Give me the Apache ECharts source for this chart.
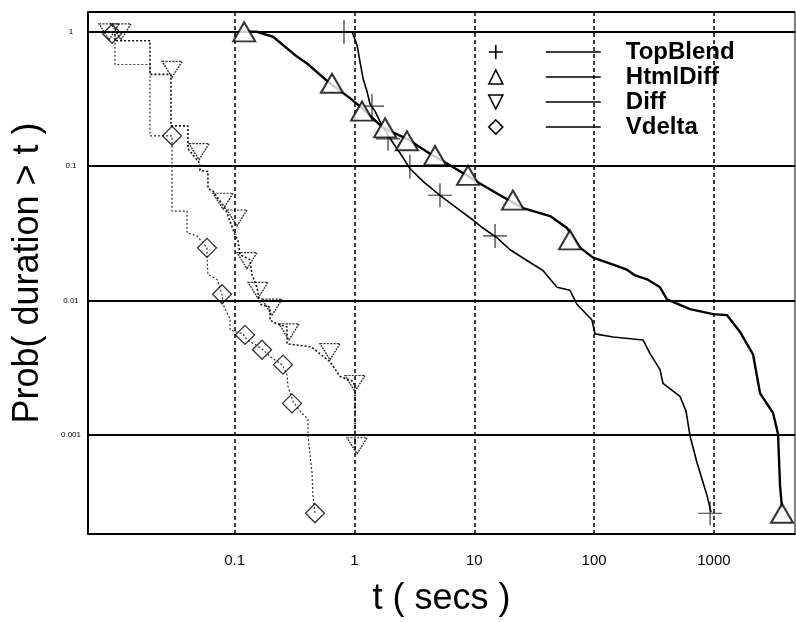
<!DOCTYPE html>
<html>
<head>
<meta charset="utf-8">
<script src="https://cdn.jsdelivr.net/npm/echarts@6/dist/echarts.min.js"></script>
<style>
  html, body { margin: 0; padding: 0; background: #fff; }
  #display-chart { width: 796px; height: 622px; }
</style>
</head>
<body>
<div id="display-chart"></div>
<script>
// TopBlend: 曲线与标记
var topBlendT = [0.817, 0.953, 1.049, 1.111, 1.178, 1.272, 1.347, 1.483, 1.73, 2.094, 2.54, 2.90, 3.73, 5.17, 7.17, 9.75, 11.8, 15.5, 19.9, 27.5, 37.4, 49.0, 62.9, 71.9, 96.0, 101.8, 144, 256, 293, 355, 376, 521, 585, 632, 723, 875, 946];
var topBlendP = [1, 1, 0.802, 0.601, 0.450, 0.361, 0.290, 0.257, 0.193, 0.1495, 0.116, 0.0962, 0.0771, 0.0608, 0.0488, 0.0398, 0.0347, 0.0293, 0.0239, 0.0199, 0.01676, 0.01256, 0.01193, 0.0094, 0.00717, 0.00566, 0.00537, 0.0051, 0.00403, 0.00307, 0.00242, 0.00194, 0.00151, 0.000985, 0.000622, 0.000356, 0.000267];
var topBlendMarkT = [0.817, 1.40, 1.905, 2.90, 5.17, 14.9, 929];
var topBlendMarkP = [1, 0.280, 0.160, 0.0995, 0.0608, 0.0303, 0.000262];

// HtmlDiff
var htmlDiffT = [0.120, 0.1535, 0.209, 0.331, 0.402, 0.624, 0.917, 1.178, 1.73, 2.74, 4.27, 5.92, 8.69, 11.8, 16.4, 25.5, 42.9, 59.4, 76.3, 98.0, 144, 188, 220, 277, 355, 406, 632, 984, 1289, 1654, 2125, 2430, 3118, 3430, 3565, 3705];
var htmlDiffP = [1, 1, 0.919, 0.654, 0.581, 0.414, 0.321, 0.266, 0.193, 0.160, 0.124, 0.1047, 0.0854, 0.0721, 0.0608, 0.0488, 0.0426, 0.0347, 0.0248, 0.0209, 0.0185, 0.0170, 0.0154, 0.0144, 0.01256, 0.01023, 0.00865, 0.00794, 0.0078, 0.00585, 0.00396, 0.00204, 0.00146, 0.00102, 0.000421, 0.000285];
var htmlDiffMarkT = [0.120, 0.649, 1.155, 1.80, 2.74, 4.70, 8.86, 21.0, 62.9, 3705];
var htmlDiffMarkP = [1, 0.414, 0.257, 0.193, 0.1547, 0.120, 0.0854, 0.0559, 0.0283, 0.000262];

// Diff
var diffT = [0.00827, 0.01002, 0.01002, 0.01963, 0.01963, 0.02939, 0.02939, 0.0407, 0.0407, 0.0513, 0.0513, 0.0598, 0.0598, 0.0659, 0.0830, 0.1006, 0.1066, 0.1107, 0.1342, 0.1394, 0.1535, 0.1626, 0.1971, 0.1971, 0.2254, 0.2733, 0.2733, 0.4334, 0.6244, 0.757, 0.9716, 1.0097, 1.0097];
var diffP = [1, 1, 0.858, 0.858, 0.482, 0.482, 0.1995, 0.1995, 0.135, 0.1047, 0.0929, 0.0914, 0.0685, 0.0651, 0.0488, 0.0309, 0.0279, 0.0220, 0.0202, 0.01566, 0.01256, 0.00941, 0.00894, 0.00717, 0.0067, 0.00637, 0.00477, 0.00454, 0.00352, 0.00273, 0.00251, 0.0023, 0.000763];
var diffMarkT = [0.00893, 0.01125, 0.0300, 0.0504, 0.0799, 0.1045, 0.1267, 0.1565, 0.2048, 0.2839, 0.6244, 1.0097, 1.049];
var diffMarkP = [1, 1, 0.525, 0.1283, 0.0549, 0.0412, 0.01985, 0.01193, 0.00894, 0.00585, 0.00417, 0.00242, 0.000832];

// Vdelta
var vdeltaT = [0.00843, 0.01002, 0.01002, 0.01963, 0.01963, 0.0300, 0.0300, 0.0400, 0.0400, 0.0484, 0.0587, 0.0587, 0.0598, 0.0712, 0.0784, 0.0799, 0.0914, 0.0914, 0.1173, 0.1267, 0.169, 0.1971, 0.2483, 0.2733, 0.2786, 0.3066, 0.3508, 0.409, 0.409, 0.4417, 0.4503, 0.468];
var vdeltaP = [1, 1, 0.571, 0.571, 0.1684, 0.1684, 0.0464, 0.0464, 0.0319, 0.0303, 0.0247, 0.0209, 0.01565, 0.01438, 0.01115, 0.00941, 0.0073, 0.00605, 0.00566, 0.00511, 0.00438, 0.00383, 0.00334, 0.00282, 0.0023, 0.00178, 0.00151, 0.00131, 0.000985, 0.000526, 0.000356, 0.000262];
var vdeltaMarkT = [0.00946, 0.0300, 0.0587, 0.0784, 0.1219, 0.169, 0.2531, 0.3009, 0.468];
var vdeltaMarkP = [0.967, 0.1684, 0.0247, 0.01115, 0.00556, 0.00431, 0.00334, 0.00172, 0.000262];

// 坐标轴范围与网格线
var xRange = [0.005963, 4753];
var yRange = [0.0001836, 1.404];
var xGridValues = [0.1, 1, 10, 100, 1000];

var FONT = 'Liberation Sans';

function pairs(xs, ys) {
    return xs.map(function (x, i) { return [x, ys[i]]; });
}

// 只显示整十次幂的刻度标签
function decadeLabel(hidden) {
    return function (v) {
        var e = Math.round(Math.log10(v));
        if (Math.abs(Math.log10(v) - e) > 1e-6) return '';
        if (hidden.indexOf(e) >= 0) return '';
        return String(Number(Math.pow(10, e).toPrecision(1)));
    };
}

var sym = {
    plus: 'path://M1,0L1,2M0,1L2,1',
    triUp: 'path://M0,2L1,0L2,2Z',
    triDown: 'path://M0,0L2,0L1,2Z',
    diamond: 'path://M1,0L2,1L1,2L0,1Z'
};

var myChart = echarts.init(document.getElementById('display-chart'));
myChart.setOption({
    animation: false,
    backgroundColor: '#fff',
    grid: {
        left: 88, right: 1, top: 12, bottom: 83,
        show: true, borderColor: '#000', borderWidth: 1
    },
    legend: { //图例: 标记 + 线段 + 文字
        orient: 'vertical',
        left: 483,
        top: 34.5,
        itemWidth: 112,
        itemHeight: 14,
        itemGap: 0,
        selectedMode: false,
        itemStyle: { color: '#fff', borderColor: '#000', borderWidth: 1.6 },
        textStyle: {
            fontFamily: FONT, fontSize: 24, fontWeight: 'bold', color: '#000',
            lineHeight: 25, padding: [0, 0, 0, 20]
        },
        data: [
            { name: 'TopBlend', icon: 'path://M7,0L7,14M0,7L14,7M57,7L112,7' },
            { name: 'HtmlDiff', icon: 'path://M0,14L7,0L14,14ZM57,7L112,7' },
            { name: 'Diff', icon: 'path://M0,0L14,0L7,14ZM57,7L112,7' },
            { name: 'Vdelta', icon: 'path://M7,0L14,7L7,14L0,7ZM57,7L112,7' }
        ]
    },
    xAxis: {
        type: 'log',
        min: xRange[0],
        max: xRange[1],
        name: 't ( secs )',
        nameLocation: 'middle',
        nameGap: 47,
        nameTextStyle: { fontFamily: FONT, fontSize: 36, color: '#000' },
        axisLine: { show: true, lineStyle: { color: '#000', width: 2 } },
        axisTick: { show: false },
        splitLine: { show: false },
        axisLabel: {
            color: '#000', fontFamily: FONT, fontSize: 15, margin: 19,
            showMinLabel: false, showMaxLabel: false,
            formatter: decadeLabel([-2])
        }
    },
    yAxis: {
        type: 'log',
        min: yRange[0],
        max: yRange[1],
        name: 'Prob( duration > t )',
        nameLocation: 'middle',
        nameGap: 42,
        nameTextStyle: { fontFamily: FONT, fontSize: 36, color: '#000' },
        axisLine: { show: true, lineStyle: { color: '#000', width: 2 } },
        axisTick: { show: false },
        splitLine: { show: true, lineStyle: { color: '#000', width: 2 } },
        axisLabel: {
            color: '#000', fontFamily: FONT, fontSize: 8, margin: 17, align: 'center',
            showMinLabel: false, showMaxLabel: false,
            formatter: decadeLabel([])
        }
    },
    series: [
        {
            name: 'TopBlend', type: 'line', symbol: 'none', silent: true, z: 3,
            data: pairs(topBlendT, topBlendP),
            lineStyle: { color: '#000', width: 1.6 },
            markLine: { //竖向网格线
                silent: true, symbol: 'none', z: 1,
                label: { show: false },
                lineStyle: { color: '#000', width: 1.5, type: [4, 3] },
                data: xGridValues.map(function (v) { return { xAxis: v }; })
            }
        },
        {
            name: 'HtmlDiff', type: 'line', symbol: 'none', silent: true, z: 3,
            data: pairs(htmlDiffT, htmlDiffP),
            lineStyle: { color: '#000', width: 2.4 }
        },
        {
            name: 'Diff', type: 'line', symbol: 'none', silent: true, z: 3,
            data: pairs(diffT, diffP),
            lineStyle: { color: '#111', width: 1.6, type: [2, 2] }
        },
        {
            name: 'Vdelta', type: 'line', symbol: 'none', silent: true, z: 3,
            data: pairs(vdeltaT, vdeltaP),
            lineStyle: { color: '#333', width: 1.2, type: [2, 2] }
        },
        {
            name: 'TopBlend', type: 'scatter', silent: true, z: 4,
            symbol: sym.plus, symbolSize: 24,
            data: pairs(topBlendMarkT, topBlendMarkP),
            itemStyle: { color: 'rgba(0,0,0,0)', borderColor: '#000', borderWidth: 1.2 }
        },
        {
            name: 'HtmlDiff', type: 'scatter', silent: true, z: 4,
            symbol: sym.triUp, symbolSize: [22, 19],
            data: pairs(htmlDiffMarkT, htmlDiffMarkP),
            itemStyle: { color: '#fff', borderColor: '#000', borderWidth: 2 }
        },
        {
            name: 'Diff', type: 'scatter', silent: true, z: 4,
            symbol: sym.triDown, symbolSize: [20, 16],
            data: pairs(diffMarkT, diffMarkP),
            itemStyle: { color: 'rgba(0,0,0,0)', borderColor: '#000', borderWidth: 1.3, borderType: [2, 1] }
        },
        {
            name: 'Vdelta', type: 'scatter', silent: true, z: 4,
            symbol: sym.diamond, symbolSize: 19,
            data: pairs(vdeltaMarkT, vdeltaMarkP),
            itemStyle: { color: 'rgba(0,0,0,0)', borderColor: '#000', borderWidth: 1.3 }
        }
    ]
});
</script>
</body>
</html>
